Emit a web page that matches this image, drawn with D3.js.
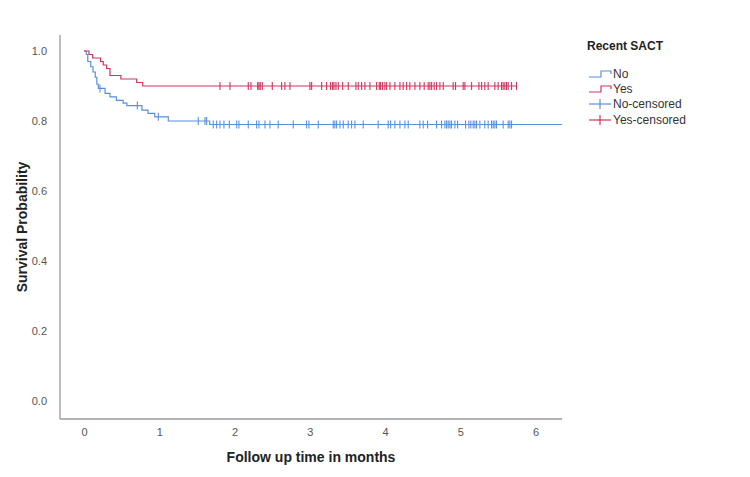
<!DOCTYPE html>
<html><head><meta charset="utf-8">
<script src="https://cdn.jsdelivr.net/npm/d3@7"></script>
<style>body{margin:0;background:#fff;}svg{display:block;font-family:"Liberation Sans",Arial,sans-serif;}</style>
</head><body><svg id="c" width="750" height="477"></svg>
<script>
// ---- data ----
const groups = ["No", "Yes"];
const xTicks = [0, 1, 2, 3, 4, 5, 6];
const yTicks = [0.0, 0.2, 0.4, 0.6, 0.8, 1.0];
// event times (months) and survival after each event
const noEventTimes = [0.03, 0.05, 0.09, 0.12, 0.15, 0.17, 0.19, 0.28, 0.345, 0.43, 0.52, 0.57, 0.77, 0.85, 0.94, 1.12, 1.67];
const noSurvival   = [0.99, 0.97, 0.955, 0.94, 0.925, 0.905, 0.893, 0.879, 0.869, 0.859, 0.851, 0.844, 0.831, 0.822, 0.812, 0.80, 0.79];
const noEndTime = 6.35;
const yesEventTimes = [0.066, 0.115, 0.22, 0.256, 0.30, 0.345, 0.49, 0.70, 0.78];
const yesSurvival   = [0.99, 0.98, 0.97, 0.96, 0.95, 0.93, 0.92, 0.91, 0.90];
const yesEndTime = 5.75;
const noCensored = [0.212, 0.708, 0.987, 1.518, 1.607, 1.629, 1.717, 1.762, 1.806, 1.859, 1.930, 2.028, 2.058, 2.182, 2.293, 2.324, 2.404, 2.470, 2.580, 2.780, 2.957, 2.988, 3.112, 3.311, 3.333, 3.356, 3.400, 3.444, 3.510, 3.555, 3.599, 3.709, 3.908, 4.041, 4.073, 4.130, 4.197, 4.263, 4.307, 4.462, 4.506, 4.564, 4.684, 4.750, 4.794, 4.817, 4.838, 4.861, 4.883, 4.927, 4.963, 5.069, 5.113, 5.139, 5.170, 5.193, 5.215, 5.259, 5.325, 5.369, 5.414, 5.436, 5.458, 5.480, 5.568, 5.635, 5.657, 5.680];
const yesCensored = [1.806, 1.939, 2.182, 2.218, 2.307, 2.324, 2.341, 2.368, 2.501, 2.625, 2.669, 2.736, 3.001, 3.024, 3.157, 3.223, 3.276, 3.303, 3.320, 3.347, 3.377, 3.436, 3.510, 3.612, 3.643, 3.688, 3.732, 3.798, 3.887, 3.922, 3.940, 3.967, 3.997, 4.020, 4.064, 4.130, 4.197, 4.240, 4.286, 4.329, 4.396, 4.462, 4.519, 4.572, 4.595, 4.618, 4.652, 4.684, 4.728, 4.772, 4.904, 4.936, 5.037, 5.060, 5.149, 5.246, 5.282, 5.325, 5.369, 5.458, 5.502, 5.547, 5.568, 5.591, 5.613, 5.635, 5.680, 5.746];
const legendLabels = ["No", "Yes", "No-censored", "Yes-censored"];

// ---- layout ----
const colors = {No: "#5a90da", Yes: "#cf355d"};
const svg = d3.select("#c");
const pL = 60, pR = 562, pT = 35, pB = 419;
const x = d3.scaleLinear().domain([-0.319, 6.35]).range([pL, pR]);
const y = d3.scaleLinear().domain([-0.0514, 1.0457]).range([pB, pT]);

// axes lines
svg.append("line").attr("x1", pL).attr("x2", pL).attr("y1", pT).attr("y2", pB).attr("stroke", "#9a9a9a").attr("stroke-width", 1.3);
svg.append("line").attr("x1", pL).attr("x2", pR).attr("y1", pB).attr("y2", pB).attr("stroke", "#9a9a9a").attr("stroke-width", 1.3);

const xAxis = d3.axisBottom(x).tickValues(xTicks).tickSize(0).tickPadding(9).tickFormat(d3.format("d"));
const gx = svg.append("g").attr("transform", `translate(0,${pB})`).call(xAxis);
gx.select(".domain").remove();
gx.selectAll("text").attr("font-size", 11).attr("fill", "#555").attr("font-family", "Liberation Sans, Arial, sans-serif");

const yAxis = d3.axisLeft(y).tickValues(yTicks).tickSize(0).tickPadding(13).tickFormat(d3.format(".1f"));
const gy = svg.append("g").attr("transform", `translate(${pL},0)`).call(yAxis);
gy.select(".domain").remove();
gy.selectAll("text").attr("font-size", 11).attr("fill", "#555").attr("font-family", "Liberation Sans, Arial, sans-serif");

// titles
svg.append("text").attr("x", (pL + pR) / 2).attr("y", 462).attr("text-anchor", "middle")
  .attr("font-size", 14).attr("font-weight", "bold").attr("fill", "#222").text("Follow up time in months");
svg.append("text").attr("transform", `translate(27,${(pT + pB) / 2}) rotate(-90)`).attr("text-anchor", "middle")
  .attr("font-size", 14).attr("font-weight", "bold").attr("fill", "#222").text("Survival Probability");

// curves
function survAt(times, surv, t) {
  let s = 1;
  for (let i = 0; i < times.length; i++) if (times[i] <= t) s = surv[i];
  return s;
}
const series = [
  {name: "No", times: noEventTimes, surv: noSurvival, end: noEndTime, cens: noCensored},
  {name: "Yes", times: yesEventTimes, surv: yesSurvival, end: yesEndTime, cens: yesCensored}
];
const line = d3.line().x(d => x(d[0])).y(d => y(d[1])).curve(d3.curveStepAfter);
series.forEach(s => {
  const pts = [[0, 1]].concat(s.times.map((t, i) => [t, s.surv[i]]));
  pts.push([s.end, s.surv[s.surv.length - 1]]);
  svg.append("path").attr("d", line(pts)).attr("fill", "none").attr("stroke", colors[s.name]).attr("stroke-width", 1.2);
  const g = svg.append("g").attr("stroke", colors[s.name]).attr("stroke-width", 1.1);
  s.cens.forEach(t => {
    const cx = x(t), cy = y(survAt(s.times, s.surv, t));
    g.append("line").attr("x1", cx).attr("x2", cx).attr("y1", cy - 4).attr("y2", cy + 4);
  });
});

// legend
svg.append("text").attr("x", 587).attr("y", 50).attr("font-size", 12).attr("font-weight", "bold").attr("fill", "#222").text("Recent SACT");
const legY = [74, 89, 104, 120];
legendLabels.forEach((lab, i) => {
  const cy = legY[i];
  const col = i % 2 === 0 ? colors.No : colors.Yes;
  if (i < 2) {
    svg.append("path").attr("d", `M589,${cy + 3}H601V${cy - 3}H611V${cy}`).attr("fill", "none").attr("stroke", col).attr("stroke-width", 1.2);
  } else {
    svg.append("line").attr("x1", 589).attr("x2", 611).attr("y1", cy).attr("y2", cy).attr("stroke", col).attr("stroke-width", 1.2);
    svg.append("line").attr("x1", 600).attr("x2", 600).attr("y1", cy - 5).attr("y2", cy + 5).attr("stroke", col).attr("stroke-width", 1.2);
  }
  svg.append("text").attr("x", 613).attr("y", cy + 4).attr("font-size", 12).attr("fill", "#333").text(lab);
});
</script></body></html>
